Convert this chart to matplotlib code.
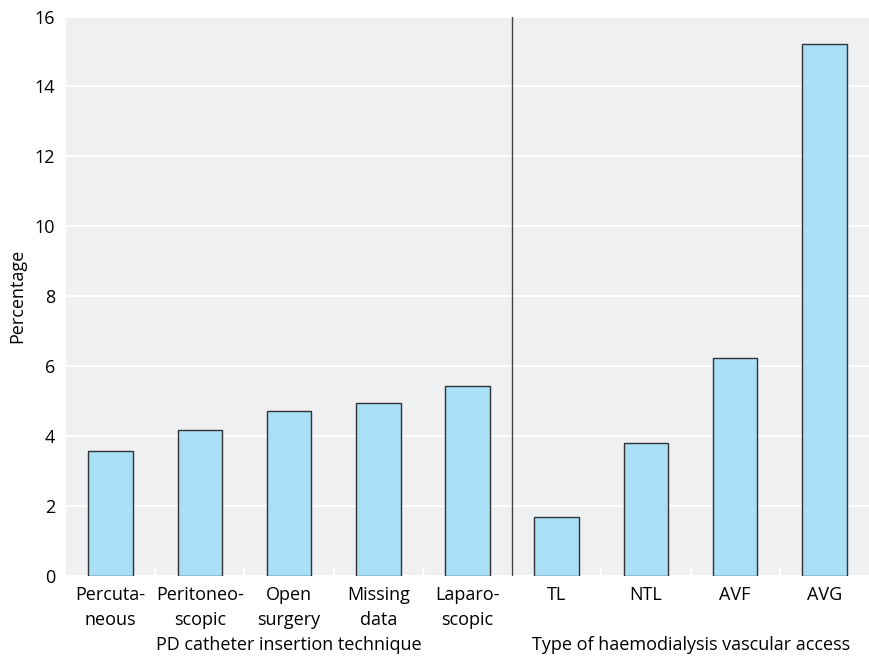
import matplotlib.pyplot as plt

categories = ["Percuta-\nneous", "Peritoneo-\nscopic", "Open\nsurgery", "Missing\ndata",
              "Laparo-\nscopic", "TL", "NTL", "AVF", "AVG"]
percentages = [3.56, 4.17, 4.72, 4.95, 5.44, 1.68, 3.80, 6.22, 15.22]
group_names = ["PD catheter insertion technique", "Type of haemodialysis vascular access"]
group_centers = [2, 6.5]

plt.rcParams['font.family'] = ['Open Sans', 'DejaVu Sans']

fig = plt.figure(figsize=(8.69, 6.62), dpi=100)
ax = fig.add_axes([0.076, 0.13, 0.924, 0.845])
ax.set_facecolor('#eff0f2')

x = list(range(len(categories)))
ax.bar(x, percentages, width=0.5, color='#aadff8', edgecolor='#333333', linewidth=1.0, zorder=3)

ax.set_xlim(-0.5, len(categories) - 0.5)
ax.set_ylim(0, 16)
ax.set_yticks(range(0, 17, 2))
ax.grid(axis='y', color='white', linewidth=1.5, zorder=1)
ax.set_axisbelow(True)
for s in ax.spines.values():
    s.set_visible(False)

ax.axvline(4.5, color='#444444', linewidth=1.0, zorder=4)

ax.set_xticks(x)
ax.set_xticklabels(categories, fontsize=13, linespacing=1.55)
ax.set_xticks([i + 0.5 for i in range(len(categories) - 1)], minor=True)
ax.tick_params(axis='x', which='major', length=0, pad=7)
ax.tick_params(axis='x', which='minor', direction='in', length=6, color='white', width=1.5)
ax.tick_params(axis='y', length=0, labelsize=13, pad=8)
ax.set_ylabel("Percentage", fontsize=13, labelpad=6)

for name, c in zip(group_names, group_centers):
    ax.text(c, -0.108, name, transform=ax.get_xaxis_transform(), ha='center', va='top', fontsize=13)

fig.savefig("out.png", dpi=100)
